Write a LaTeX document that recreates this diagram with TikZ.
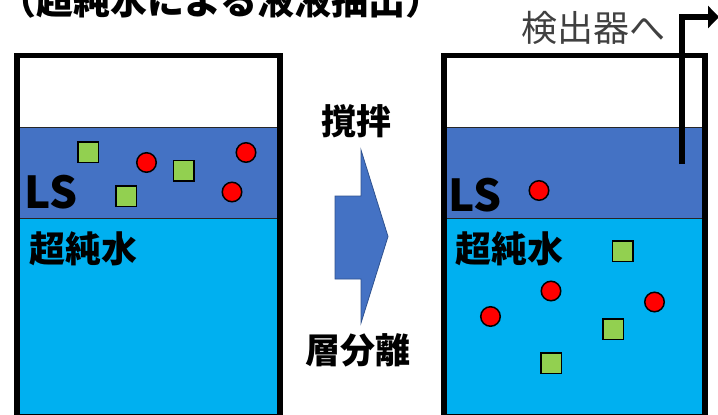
\documentclass[tikz,border=0pt]{standalone}
\usepackage{fontspec}
\setmainfont{Noto Sans CJK JP}
\usetikzlibrary{arrows.meta}
\definecolor{lsblue}{HTML}{4472C4}
\definecolor{water}{HTML}{00B0F0}
\definecolor{sqgreen}{HTML}{92D050}
\definecolor{dotred}{HTML}{FF0000}
\definecolor{arrowedge}{HTML}{2F528F}
\definecolor{labelgray}{HTML}{404040}
\tikzset{
 wall/.style={draw=black, line width=5.5pt},
 layerline/.style={draw=black!85, line width=1pt},
 lsquare/.style={rectangle, draw=black, line width=1.5pt, fill=sqgreen, minimum size=20.5pt, inner sep=0pt},
 ldot/.style={circle, draw=black, line width=1.5pt, fill=dotred, minimum size=19.5pt, inner sep=0pt},
 lbl/.style={font=\bfseries\fontsize{36}{40}\selectfont, inner sep=0pt},
 lslbl/.style={font=\bfseries\fontsize{44}{48}\selectfont, inner sep=0pt},
 pipe/.style={line width=6.5pt, -{Triangle[length=11pt,width=22pt]}},
 blockarrow/.style={fill=lsblue, draw=arrowedge, line width=0.8pt},
}
\begin{document}
\begin{tikzpicture}[x=1pt,y=-1pt]
\useasboundingbox (0,0) rectangle (718,415);
% title
\node[lbl, font=\bfseries\fontsize{37}{40}\selectfont, anchor=base west] (title) at (-1,15) {（超純水による液液抽出）};
% left beaker
\fill[white] (17,55.5) rectangle (280,127);
\fill[lsblue] (17,127) rectangle (280,218);
\fill[water] (17,218) rectangle (280,416.5);
\draw[layerline] (17,127) -- (280,127);
\draw[layerline] (17,218) -- (280,218);
\draw[wall] (17,55.5) rectangle (280,416.5);
\node[lsquare] (ls1) at (88,152) {};
\node[ldot] (lc1) at (146.5,162.5) {};
\node[lsquare] (ls2) at (183.5,170.5) {};
\node[ldot] (lc2) at (246,152.5) {};
\node[lsquare] (ls3) at (126,196) {};
\node[ldot] (lc3) at (232,192) {};
\node[lslbl, anchor=west] (lLS) at (24.5,192.5) {LS};
\node[lbl, anchor=west] (lwater) at (29,249) {超純水};
% middle arrow
\draw[blockarrow] (335,196) -- (361,196) -- (361,150) -- (388,236.5) -- (361,323) -- (361,279) -- (335,279) -- cycle;
\node[lbl, font=\bfseries\fontsize{35}{40}\selectfont] (stir) at (356,121.5) {撹拌};
\node[lbl, font=\bfseries\fontsize{35}{40}\selectfont] (sep) at (358,350) {層分離};
% right beaker
\fill[white] (444,55.5) rectangle (705,127);
\fill[lsblue] (444,127) rectangle (705,218);
\fill[water] (444,218) rectangle (705,416.5);
\draw[layerline] (444,127) -- (705,127);
\draw[layerline] (444,218) -- (705,218);
\draw[wall] (444,55.5) rectangle (705,416.5);
\node[ldot] (rc1) at (539,190.5) {};
\node[lsquare] (rs1) at (622.5,251) {};
\node[ldot] (rc2) at (551,291) {};
\node[ldot] (rc3) at (654.5,302) {};
\node[ldot] (rc4) at (490.5,316.5) {};
\node[lsquare] (rs2) at (613,329) {};
\node[lsquare] (rs3) at (551,363) {};
\node[lslbl, anchor=west] (rLS) at (448.5,195.5) {LS};
\node[lbl, anchor=west] (rwater) at (455,248.5) {超純水};
% pipe to detector
\coordinate (pipeend) at (682,164);
\coordinate (pipebend) at (682,17);
\coordinate (pipeout) at (719,17);
\draw[pipe] (pipeend) -- (pipebend) -- (pipeout);
\node[inner sep=0pt, text=labelgray, font=\fontsize{36}{40}\selectfont] (det) at (593,27.5) {検出器へ};
\end{tikzpicture}
\end{document}
